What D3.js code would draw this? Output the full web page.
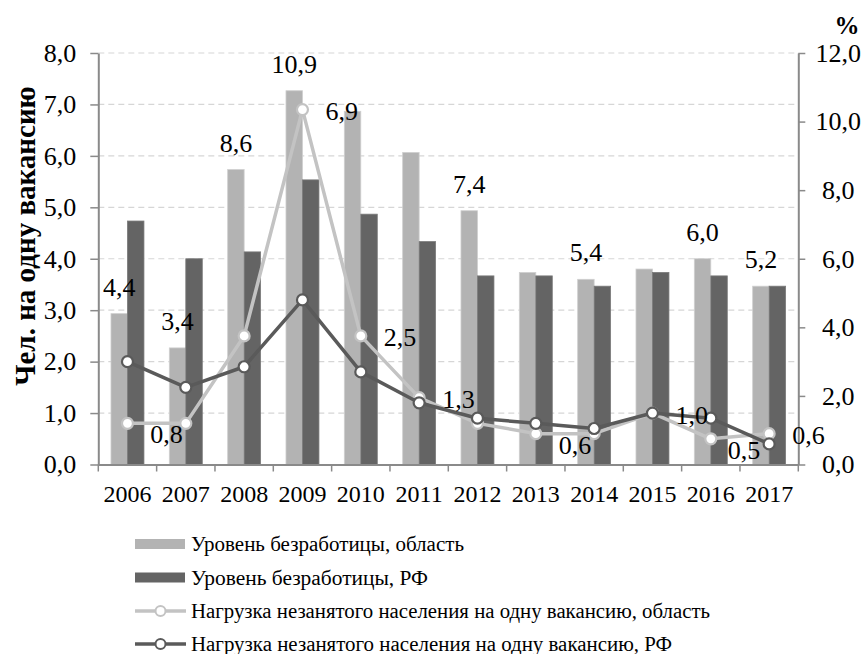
<!DOCTYPE html>
<html>
<head>
<meta charset="utf-8">
<script src="https://cdn.jsdelivr.net/npm/d3@7"></script>
<style>
  body { margin: 0; background: #fff; }
  svg { font-family: "Liberation Serif", "Times New Roman", serif; }
</style>
</head>
<body>
<div id="chart"></div>
<script>
// years on the x axis
var years = ["2006", "2007", "2008", "2009", "2010", "2011", "2012", "2013", "2014", "2015", "2016", "2017"];

// unemployment rate, % (right axis)
var unempRegion = [4.4, 3.4, 8.6, 10.9, 10.3, 9.1, 7.4, 5.6, 5.4, 5.7, 6.0, 5.2];
var unempRF = [7.1, 6.0, 6.2, 8.3, 7.3, 6.5, 5.5, 5.5, 5.2, 5.6, 5.5, 5.2];

// unemployed per vacancy (left axis)
var loadRegion = [0.8, 0.8, 2.5, 6.9, 2.5, 1.3, 0.8, 0.6, 0.6, 1.0, 0.5, 0.6];
var loadRF = [2.0, 1.5, 1.9, 3.2, 1.8, 1.2, 0.9, 0.8, 0.7, 1.0, 0.9, 0.4];

// which values carry a label
var barLabelYears = ["2006", "2007", "2008", "2009", "2012", "2014", "2016", "2017"];
var lineLabelYears = ["2007", "2009", "2010", "2011", "2014", "2015", "2016", "2017"];

var leftTicks = [0, 1, 2, 3, 4, 5, 6, 7, 8];
var rightTicks = [0, 2, 4, 6, 8, 10, 12];

var legendNames = [
	"Уровень безработицы, область",
	"Уровень безработицы, РФ",
	"Нагрузка незанятого населения на одну вакансию, область",
	"Нагрузка незанятого населения на одну вакансию, РФ"
];

var W = 868, H = 654;
var plotLeft = 98.3, plotRight = 798.3, plotTop = 53, plotBottom = 464.5;
var cLight = "#b3b3b3", cDark = "#646464";
var cLineLight = "#c3c3c3", cLineDark = "#5a5a5a";
var axisColor = "#8a8a8a";

// label placement next to the line points
var labelPlace = {
	"2007": "bl", "2009": "r", "2010": "r", "2011": "r",
	"2014": "bl", "2015": "r", "2016": "br", "2017": "r"
};

var fmt = function(v) { return v.toFixed(1).replace(".", ","); };

var svg = d3.select("#chart").append("svg")
	.attr("width", W)
	.attr("height", H);

var x = d3.scaleBand().domain(years).range([plotLeft, plotRight]).padding(0);
var x1 = d3.scaleBand().domain(["obl", "rf"]).range([0, x.bandwidth()]).paddingOuter(0.77).paddingInner(0);
var y = d3.scaleLinear().domain([0, 8]).range([plotBottom, plotTop]);
var yR = d3.scaleLinear().domain([0, 12]).range([plotBottom, plotTop]);

// grid
svg.append("g").selectAll("line")
	.data(leftTicks.slice(1))
	.enter().append("line")
	.attr("x1", plotLeft).attr("x2", plotRight)
	.attr("y1", function(d) { return y(d); })
	.attr("y2", function(d) { return y(d); })
	.attr("stroke", "#d6d6d6")
	.attr("stroke-width", 1.2)
	.attr("stroke-dasharray", "6,4");

// bars
var bars = svg.append("g");
bars.selectAll(".b1").data(unempRegion).enter().append("rect")
	.attr("x", function(d, i) { return x(years[i]) + x1("obl"); })
	.attr("y", function(d) { return yR(d); })
	.attr("width", x1.bandwidth())
	.attr("height", function(d) { return plotBottom - yR(d); })
	.attr("fill", cLight)
	.attr("stroke", "#cfcfcf")
	.attr("stroke-width", 0.8);
bars.selectAll(".b2").data(unempRF).enter().append("rect")
	.attr("x", function(d, i) { return x(years[i]) + x1("rf"); })
	.attr("y", function(d) { return yR(d); })
	.attr("width", x1.bandwidth())
	.attr("height", function(d) { return plotBottom - yR(d); })
	.attr("fill", cDark)
	.attr("stroke", "#7a7a7a")
	.attr("stroke-width", 0.8);

// axes
var gL = svg.append("g")
	.attr("transform", "translate(" + plotLeft + ",0)")
	.call(d3.axisLeft(y).tickValues(leftTicks).tickFormat(fmt).tickSize(8).tickSizeOuter(0).tickPadding(14));
var gR = svg.append("g")
	.attr("transform", "translate(" + plotRight + ",0)")
	.call(d3.axisRight(yR).tickValues(rightTicks).tickFormat(fmt).tickSize(7).tickSizeOuter(0));
gR.selectAll("text").attr("x", 40).attr("text-anchor", "middle");

var gB = svg.append("g")
	.attr("transform", "translate(0," + plotBottom + ")")
	.call(d3.axisBottom(x).tickSize(0).tickSizeOuter(0));
gB.selectAll("text").attr("y", 37).attr("dy", 0).style("font-size", "24px");
gB.selectAll(".sep").data(years.concat(["end"])).enter().append("line")
	.attr("x1", function(d) { return d === "end" ? plotRight : x(d); })
	.attr("x2", function(d) { return d === "end" ? plotRight : x(d); })
	.attr("y1", 0).attr("y2", 7)
	.attr("stroke", axisColor).attr("stroke-width", 1.5);

[gL, gR, gB].forEach(function(g) {
	g.attr("font-family", null).attr("font-size", null);
	g.select(".domain").attr("stroke", axisColor).attr("stroke-width", 2);
	g.selectAll(".tick line").attr("stroke", axisColor).attr("stroke-width", 1.5);
	g.selectAll("text").attr("fill", "#000");
});
gL.selectAll("text").style("font-size", "26px");
gR.selectAll("text").style("font-size", "26px");

// lines
var line = d3.line()
	.x(function(d, i) { return x(years[i]) + x.bandwidth() / 2; })
	.y(function(d) { return y(d); });

function drawSeries(vals, color) {
	svg.append("path")
		.datum(vals)
		.attr("d", line)
		.attr("fill", "none")
		.attr("stroke", color)
		.attr("stroke-width", 3.5)
		.attr("stroke-linejoin", "round");
	svg.append("g").selectAll("circle").data(vals).enter().append("circle")
		.attr("cx", function(d, i) { return x(years[i]) + x.bandwidth() / 2; })
		.attr("cy", function(d) { return y(d); })
		.attr("r", 5.5)
		.attr("fill", "#fff")
		.attr("stroke", color)
		.attr("stroke-width", 2.2);
}
drawSeries(loadRegion, cLineLight);
drawSeries(loadRF, cLineDark);

// bar labels
svg.append("g").selectAll("text")
	.data(years.filter(function(yr) { return barLabelYears.indexOf(yr) >= 0; }))
	.enter().append("text")
	.attr("x", function(yr) { return x(yr) + x1("obl") + x1.bandwidth() / 2; })
	.attr("y", function(yr) { return yR(unempRegion[years.indexOf(yr)]) - 18; })
	.attr("text-anchor", "middle")
	.style("font-size", "26px")
	.text(function(yr) { return fmt(unempRegion[years.indexOf(yr)]); });

// line labels
svg.append("g").selectAll("text")
	.data(lineLabelYears)
	.enter().append("text")
	.attr("x", function(yr) {
		var cx = x(yr) + x.bandwidth() / 2, p = labelPlace[yr];
		return p === "r" ? cx + 23 : p === "br" ? cx + 17 : cx - 3;
	})
	.attr("y", function(yr) {
		var cy = y(loadRegion[years.indexOf(yr)]), p = labelPlace[yr];
		return p === "r" ? cy + 10.5 : cy + 20;
	})
	.attr("text-anchor", function(yr) { return labelPlace[yr] === "bl" ? "end" : "start"; })
	.style("font-size", "26px")
	.text(function(yr) { return fmt(loadRegion[years.indexOf(yr)]); });

// axis titles
svg.append("text")
	.attr("transform", "translate(35,236) rotate(-90)")
	.attr("text-anchor", "middle")
	.style("font-size", "29px")
	.style("font-weight", "bold")
	.text("Чел. на одну вакансию");
svg.append("text")
	.attr("x", 847).attr("y", 34)
	.attr("text-anchor", "middle")
	.style("font-size", "25px")
	.style("font-weight", "bold")
	.text("%");

// legend
var legendY = [544, 577.5, 611, 644];
var legendW = [273, 237, 519, 481];
var lg = svg.append("g");
legendNames.forEach(function(name, i) {
	var yy = legendY[i];
	if (i < 2) {
		lg.append("rect")
			.attr("x", 135).attr("y", yy - 5)
			.attr("width", 50).attr("height", 10)
			.attr("fill", i === 0 ? cLight : cDark);
	} else {
		var c = i === 2 ? cLineLight : cLineDark;
		lg.append("line")
			.attr("x1", 135).attr("x2", 186)
			.attr("y1", yy).attr("y2", yy)
			.attr("stroke", c).attr("stroke-width", 3.5);
		lg.append("circle")
			.attr("cx", 160.5).attr("cy", yy).attr("r", 5)
			.attr("fill", "#fff").attr("stroke", c).attr("stroke-width", 2);
	}
	lg.append("text")
		.attr("x", 191).attr("y", yy + 7)
		.attr("textLength", legendW[i])
		.attr("lengthAdjust", "spacingAndGlyphs")
		.style("font-size", "20px")
		.text(name);
});
</script>
</body>
</html>
